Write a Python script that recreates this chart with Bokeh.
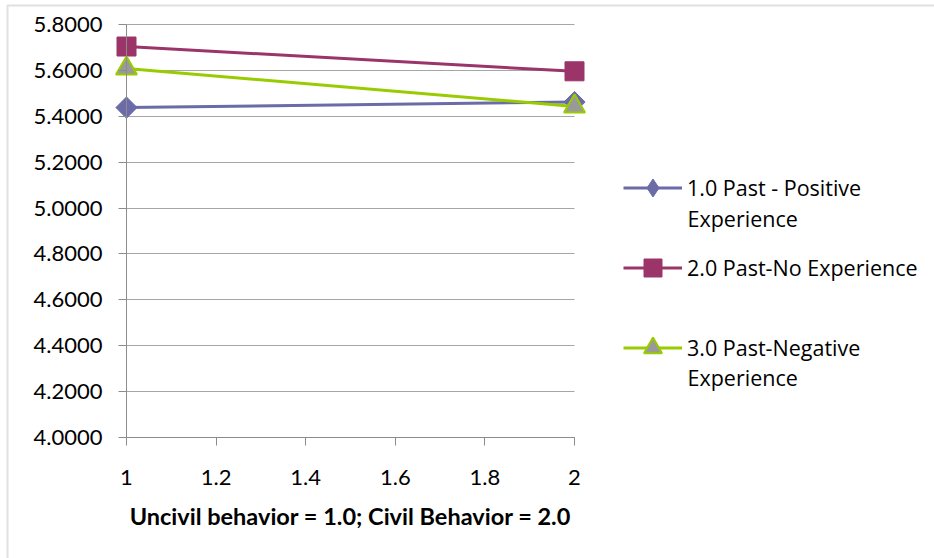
import math
from bokeh.plotting import figure
from bokeh.models import (Range1d, FixedTicker, PrintfTickFormatter, CustomJSTickFormatter,
                          Legend, LegendItem, Label, BoxAnnotation, ColumnDataSource)
from bokeh.embed import file_html
from bokeh.resources import INLINE

# ---- data ----
X_VALUES = [1, 2]
POSITIVE = [5.438, 5.462]
NO_EXPERIENCE = [5.704, 5.596]
NEGATIVE = [5.608, 5.443]
SERIES_LABELS = ["1.0 Past - Positive", "2.0 Past-No Experience", "3.0 Past-Negative"]
SERIES_LABELS_LINE2 = ["Experience", "", "Experience"]
Y_TICKS = [4.0, 4.2, 4.4, 4.6, 4.8, 5.0, 5.2, 5.4, 5.6, 5.8]
X_TICKS = [1, 1.2, 1.4, 1.6, 1.8, 2]
X_TITLE = "Uncivil behavior = 1.0; Civil Behavior = 2.0"

FONT = "Lato"
LEGEND_FONT = "Open Sans"
AXIS_COLOR = "#8C8C8C"
GRID_COLOR = "#A6A6A6"
BLUE, PLUM, GREEN, GREY = "#6B6BA8", "#9B3468", "#99CC00", "#999999"

W, H = 934, 558
p = figure(width=W, height=H, output_backend="svg", toolbar_location=None,
           x_range=Range1d(0.71875, 2.803571), y_range=Range1d(3.472639, 5.904600),
           min_border=0, min_border_left=0, min_border_right=0,
           min_border_top=0, min_border_bottom=0)
p.outline_line_color = None
p.background_fill_color = "white"
p.border_fill_color = "white"

# grids
p.ygrid.ticker = FixedTicker(ticks=Y_TICKS)
p.ygrid.grid_line_color = GRID_COLOR
p.ygrid.cross_bounds = (X_TICKS[0], X_TICKS[-1])
p.xgrid.visible = False

# y axis (placed at x = 1)
yax = p.yaxis[0]
yax.fixed_location = X_TICKS[0]
yax.bounds = (Y_TICKS[0], Y_TICKS[-1])
yax.ticker = FixedTicker(ticks=Y_TICKS)
yax.formatter = PrintfTickFormatter(format="%.4f")
yax.axis_line_color = AXIS_COLOR
yax.major_tick_line_color = AXIS_COLOR
yax.minor_tick_line_color = None
yax.major_tick_out = 8
yax.major_tick_in = 0
yax.major_label_standoff = 16
yax.major_label_text_font = FONT
yax.major_label_text_font_size = "22px"
yax.major_label_text_color = "black"

# x axis (placed at y = 4.0)
xax = p.xaxis[0]
xax.fixed_location = Y_TICKS[0]
xax.ticker = FixedTicker(ticks=X_TICKS)
xax.formatter = CustomJSTickFormatter(code="return String(Math.round(tick*10)/10)")
xax.bounds = (X_TICKS[0], X_TICKS[-1])
xax.axis_line_color = AXIS_COLOR
xax.major_tick_line_color = AXIS_COLOR
xax.minor_tick_line_color = None
xax.major_tick_out = 8
xax.major_tick_in = 0
xax.major_label_standoff = 25
xax.major_label_text_font = FONT
xax.major_label_text_font_size = "22px"
xax.major_label_text_color = "black"
xax.axis_label = X_TITLE
xax.axis_label_text_font = FONT
xax.axis_label_text_font_style = "bold"
xax.axis_label_text_font_size = "23.5px"
xax.axis_label_text_color = "black"
xax.axis_label_standoff = 13

# series
src = ColumnDataSource(dict(x=X_VALUES, pos=POSITIVE, noe=NO_EXPERIENCE, neg=NEGATIVE))

l1 = p.line("x", "pos", source=src, line_color=BLUE, line_width=3)
# diamond used as the legend glyph; fully covered in the plot by the rotated square
m1_leg = p.scatter("x", "pos", source=src, marker="diamond", size=20,
                   fill_color=BLUE, line_color=BLUE)
m1 = p.scatter("x", "pos", source=src, marker="square", angle=math.pi / 4, size=15,
               fill_color=BLUE, line_color=BLUE)
l2 = p.line("x", "noe", source=src, line_color=PLUM, line_width=3)
m2 = p.scatter("x", "noe", source=src, marker="square", size=19,
               fill_color=PLUM, line_color=PLUM)
l3 = p.line("x", "neg", source=src, line_color=GREEN, line_width=3)
m3 = p.scatter("x", "neg", source=src, marker="triangle", size=21,
               fill_color=GREY, line_color=GREEN, line_width=2)

legend = Legend(items=[
    LegendItem(label=SERIES_LABELS[0], renderers=[l1, m1_leg]),
    LegendItem(label=SERIES_LABELS[1], renderers=[l2, m2]),
    LegendItem(label=SERIES_LABELS[2], renderers=[l3, m3]),
], location=(623, 188), padding=0, margin=0, spacing=35, glyph_width=59, glyph_height=45,
    label_height=45, label_standoff=5, border_line_color=None, background_fill_alpha=0,
    label_text_font=LEGEND_FONT, label_text_font_size="21.5px", label_text_color="black")
p.add_layout(legend)

for txt, yy in [(SERIES_LABELS_LINE2[0], 340), (SERIES_LABELS_LINE2[2], 181)]:
    p.add_layout(Label(x=687, y=yy, x_units="screen", y_units="screen", text=txt,
                       text_font=LEGEND_FONT, text_font_size="21.5px", text_color="black",
                       text_baseline="middle", text_align="left"))

# outer chart border (top and left visible)
p.add_layout(BoxAnnotation(left=7, right=W + 10, top=H - 5, bottom=-10,
                           left_units="screen", right_units="screen",
                           top_units="screen", bottom_units="screen",
                           fill_alpha=0, line_color="#999999", line_width=2))

open("out.html", "w").write(file_html(p, INLINE))
